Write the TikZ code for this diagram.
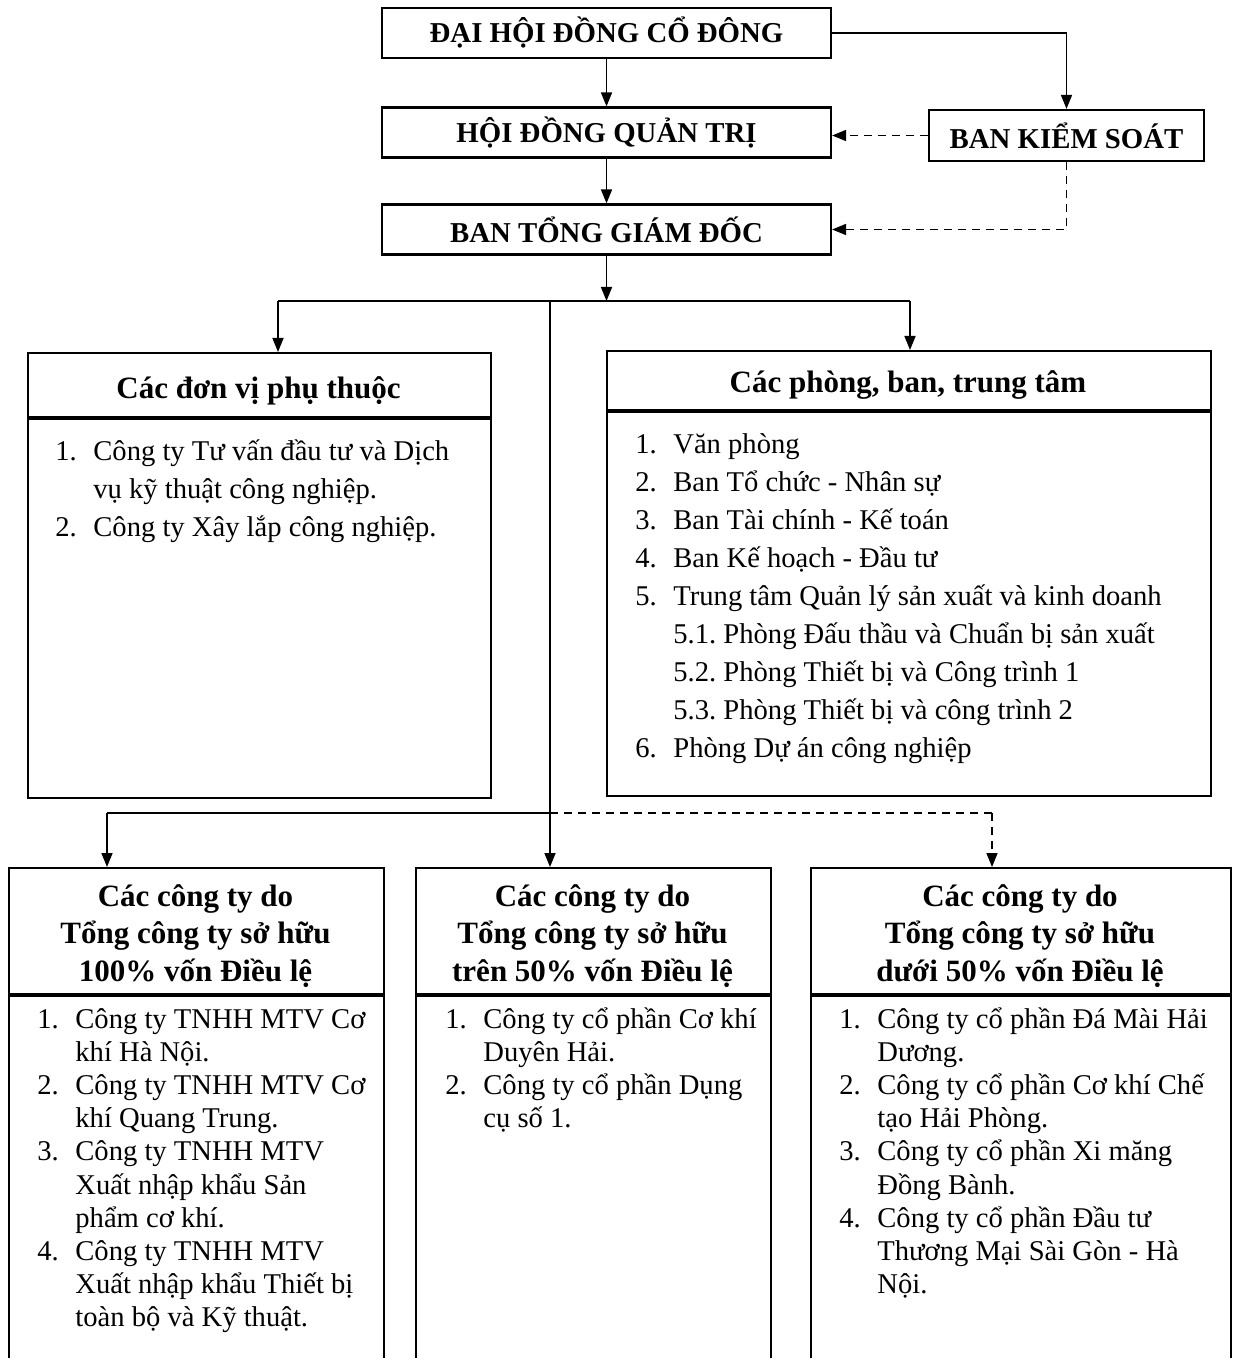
\documentclass[tikz,border=0pt]{standalone}
\usepackage{fontspec}
\setmainfont{Liberation Serif}
\usetikzlibrary{arrows.meta}
\setlength{\lineskiplimit}{-20pt}
\frenchspacing
\newcommand{\itm}[1]{\makebox[19pt][l]{#1}}
\tikzset{
topbox/.style={draw,line width=1.1pt,minimum width=224.5pt,minimum height=25pt,inner sep=0pt,font=\bfseries\fontsize{14.4}{17}\selectfont},
headbox/.style={draw,line width=1.1pt,inner sep=0pt,anchor=north west},
bodybox/.style={draw,line width=1.1pt,inner sep=0pt,anchor=north west},
titletext/.style={inner sep=0pt,anchor=base,text width=#1,align=flush center,font=\bfseries\fontsize{15.5}{18.75}\selectfont},
listtext/.style={inner sep=0pt,anchor=base west,text width=300pt,align=flush left,font=\fontsize{14.3}{#1}\selectfont},
link/.style={->,line width=0.8pt},
dashlink/.style={->,line width=0.8pt,dash pattern=on 4pt off 3pt}
}

\begin{document}
\begin{tikzpicture}[x=0.5pt,y=-0.5pt,>={Triangle[length=7pt,width=5.5pt]}]
\useasboundingbox (0,0) rectangle (1233,1358);
\clip (0,0) rectangle (1233,1358);
% cap tren
\node[topbox] (dhdcd) at (606.5,33) {ĐẠI HỘI ĐỒNG CỔ ĐÔNG};
\node[topbox] (hdqt) at (606.5,132.5) {HỘI ĐỒNG QUẢN TRỊ};
\node[topbox] (btgd) at (606.5,229.5) {BAN TỔNG GIÁM ĐỐC};
\node[topbox,minimum width=137.5pt,minimum height=25.5pt] (bks) at (1066.5,135.5) {BAN KIỂM SOÁT};
\draw[link] (dhdcd) -- (hdqt);
\draw[link] (hdqt) -- (btgd);
\draw[link] (dhdcd.east) -| (bks.north);
\draw[dashlink] (bks.west) -- (bks.west -| hdqt.east);
\draw[dashlink] (bks.south) |- (btgd.east);
% cap giua
\node[headbox,minimum width=231.5pt,minimum height=32pt] (dvHead) at (27,352) {};
\node[bodybox,minimum width=231.5pt,minimum height=189.5pt] (dvBody) at (dvHead.south west) {};
\node[titletext=231.5pt] (dvTitle) at (258.5,398) {Các đơn vị phụ thuộc};
\node[listtext=19.15pt] (dvList) at (55,460) {\itm{1.}Công ty Tư vấn đầu tư và Dịch\\
\itm{}vụ kỹ thuật công nghiệp.\\
\itm{2.}Công ty Xây lắp công nghiệp.};
\node[headbox,minimum width=302pt,minimum height=29.5pt] (pbHead) at (606,350) {};
\node[bodybox,minimum width=302pt,minimum height=192pt] (pbBody) at (pbHead.south west) {};
\node[titletext=302pt] (pbTitle) at (908,392) {Các phòng, ban, trung tâm};
\node[listtext=19.05pt] (pbList) at (635,453) {\itm{1.}Văn phòng\\
\itm{2.}Ban Tổ chức - Nhân sự\\
\itm{3.}Ban Tài chính - Kế toán\\
\itm{4.}Ban Kế hoạch - Đầu tư\\
\itm{5.}Trung tâm Quản lý sản xuất và kinh doanh\\
\itm{}5.1. Phòng Đấu thầu và Chuẩn bị sản xuất\\
\itm{}5.2. Phòng Thiết bị và Công trình 1\\
\itm{}5.3. Phòng Thiết bị và công trình 2\\
\itm{6.}Phòng Dự án công nghiệp};
\coordinate (split) at (606.5,301);
\coordinate (dvIn) at (278,301);
\coordinate (pbIn) at (910,301);
\coordinate (trunk) at (550,301);
\draw[link] (btgd) -- (split);
\draw[line width=0.8pt] (dvIn) -- (pbIn);
\draw[link] (dvIn) -- (dvIn |- dvHead.north);
\draw[link] (pbIn) -- (pbIn |- pbHead.north);
% cap duoi
\node[headbox,minimum width=187.5pt,minimum height=63pt] (cty1Head) at (8,867) {};
\node[bodybox,minimum width=187.5pt,minimum height=200pt] (cty1Body) at (cty1Head.south west) {};
\node[titletext=187.5pt] (cty1Title) at (195.5,906) {Các công ty do\\Tổng công ty sở hữu\\100\% vốn Điều lệ};
\node[headbox,minimum width=177.5pt,minimum height=63pt] (cty2Head) at (415,867) {};
\node[bodybox,minimum width=177.5pt,minimum height=200pt] (cty2Body) at (cty2Head.south west) {};
\node[titletext=177.5pt] (cty2Title) at (592.5,906) {Các công ty do\\Tổng công ty sở hữu\\trên 50\% vốn Điều lệ};
\node[headbox,minimum width=210pt,minimum height=63pt] (cty3Head) at (810,867) {};
\node[bodybox,minimum width=210pt,minimum height=200pt] (cty3Body) at (cty3Head.south west) {};
\node[titletext=210pt] (cty3Title) at (1020,906) {Các công ty do\\Tổng công ty sở hữu\\dưới 50\% vốn Điều lệ};
\node[listtext=16.6pt] (cty1List) at (37,1028) {\itm{1.}Công ty TNHH MTV Cơ\\
\itm{}khí Hà Nội.\\
\itm{2.}Công ty TNHH MTV Cơ\\
\itm{}khí Quang Trung.\\
\itm{3.}Công ty TNHH MTV\\
\itm{}Xuất nhập khẩu Sản\\
\itm{}phẩm cơ khí.\\
\itm{4.}Công ty TNHH MTV\\
\itm{}Xuất nhập khẩu Thiết bị\\
\itm{}toàn bộ và Kỹ thuật.};
\node[listtext=16.6pt] (cty2List) at (445,1028) {\itm{1.}Công ty cổ phần Cơ khí\\
\itm{}Duyên Hải.\\
\itm{2.}Công ty cổ phần Dụng\\
\itm{}cụ số 1.};
\node[listtext=16.6pt] (cty3List) at (839,1028) {\itm{1.}Công ty cổ phần Đá Mài Hải\\
\itm{}Dương.\\
\itm{2.}Công ty cổ phần Cơ khí Chế\\
\itm{}tạo Hải Phòng.\\
\itm{3.}Công ty cổ phần Xi măng\\
\itm{}Đồng Bành.\\
\itm{4.}Công ty cổ phần Đầu tư\\
\itm{}Thương Mại Sài Gòn - Hà\\
\itm{}Nội.};
\coordinate (c1In) at (107,813);
\coordinate (c3In) at (992,813);
\draw[link] (trunk) -- (trunk |- cty2Head.north);
\draw[line width=0.8pt] (c1In) -- (c1In -| trunk);
\draw[dashlink,-] (c1In -| trunk) -- (c3In);
\draw[dashlink] (c3In) -- (c3In |- cty3Head.north);
\draw[link] (c1In) -- (c1In |- cty1Head.north);
\end{tikzpicture}
\end{document}
